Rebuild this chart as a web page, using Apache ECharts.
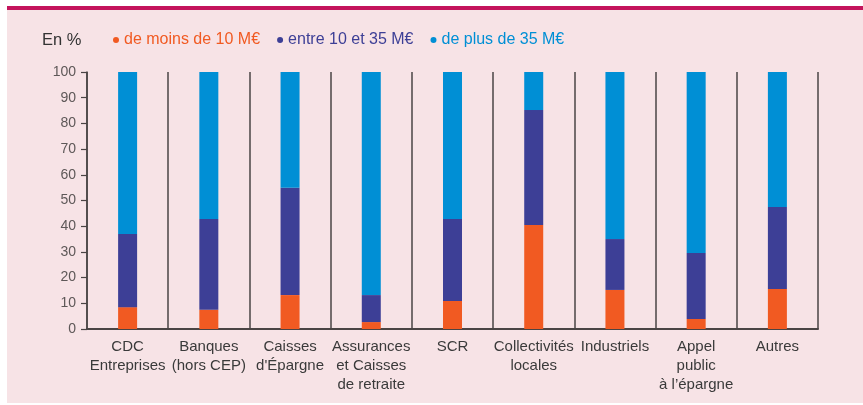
<!DOCTYPE html>
<html>
<head>
<meta charset="utf-8">
<script src="https://cdn.jsdelivr.net/npm/echarts@6/dist/echarts.min.js"></script>
<style>
  html, body { margin: 0; padding: 0; background: #ffffff; }
  #frame { position: absolute; left: 7px; top: 6px; width: 856px; height: 397px; background: #f7e3e6; border-top: 4px solid #c4145c; box-sizing: border-box; }
  #chart { position: absolute; left: 0; top: 0; width: 863px; height: 405px; }
</style>
</head>
<body>
<div id="frame"></div>
<div id="chart"></div>
<script>
// Répartition des montants par type d'investisseur, en %
const categories = [
  'CDC\nEntreprises', 'Banques\n(hors CEP)', 'Caisses\nd\'Épargne', 'Assurances\net Caisses\nde retraite',
  'SCR', 'Collectivités\nlocales', 'Industriels', 'Appel\npublic\nà l\u2019épargne', 'Autres'
];
const moins10 = [8.5, 7.5, 13.2, 2.7, 10.9, 40.5, 15.2, 3.9, 15.6];
const jusqua35 = [37, 42.8, 55, 13.2, 42.8, 85.2, 35, 29.6, 47.5];
const yTicks = [0, 10, 20, 30, 40, 50, 60, 70, 80, 90, 100];

const entre10et35 = jusqua35.map((v, i) => +(v - moins10[i]).toFixed(1));
const plus35 = jusqua35.map(v => +(100 - v).toFixed(1));

const cOrange = '#f15a22', cViolet = '#3d3f96', cBleu = '#008fd5';
const font = '"Liberation Sans", Arial, sans-serif';
const axisColor = '#4a4444';

const chart = echarts.init(document.getElementById('chart'));
chart.setOption({
  backgroundColor: 'transparent',
  animation: false,
  title: {
    text: 'En %', left: 42, top: 32, padding: 0,
    textStyle: { fontFamily: font, fontSize: 16.5, fontWeight: 'normal', color: '#333' }
  },
  legend: {
    left: 113, top: 32, padding: 0, itemWidth: 6, itemHeight: 6, itemGap: 17,
    icon: 'circle',
    textStyle: { fontFamily: font, fontSize: 16, padding: [0, 0, 0, 0] },
    data: [
      { name: 'de moins de 10 M€', textStyle: { color: cOrange } },
      { name: 'entre 10 et 35 M€', textStyle: { color: cViolet } },
      { name: 'de plus de 35 M€', textStyle: { color: cBleu } }
    ]
  },
  grid: { left: 87, right: 45, top: 72, bottom: 76 },
  xAxis: {
    type: 'category', data: categories,
    axisLine: { lineStyle: { color: axisColor, width: 2 } },
    axisTick: { show: false },
    splitLine: { show: true, lineStyle: { color: axisColor, width: 1.5 } },
    axisLabel: { fontFamily: font, fontSize: 15, color: '#3a3a3a', lineHeight: 19, margin: 8, interval: 0 }
  },
  yAxis: {
    type: 'value', min: 0, max: 100, interval: 10,
    axisLine: { show: true, lineStyle: { color: axisColor, width: 1.5 } },
    axisTick: { show: true, inside: false, length: 6, lineStyle: { color: axisColor, width: 1.2 } },
    splitLine: { show: false },
    axisLabel: {
      fontFamily: font, fontSize: 14, color: '#5e5858', margin: 11,
      formatter: v => yTicks.includes(v) ? String(v) : ''
    }
  },
  series: [
    { name: 'de moins de 10 M€', type: 'bar', stack: 't', barWidth: 19, data: moins10, itemStyle: { color: cOrange } },
    { name: 'entre 10 et 35 M€', type: 'bar', stack: 't', barWidth: 19, data: entre10et35, itemStyle: { color: cViolet } },
    { name: 'de plus de 35 M€', type: 'bar', stack: 't', barWidth: 19, data: plus35, itemStyle: { color: cBleu } }
  ]
});
</script>
</body>
</html>
